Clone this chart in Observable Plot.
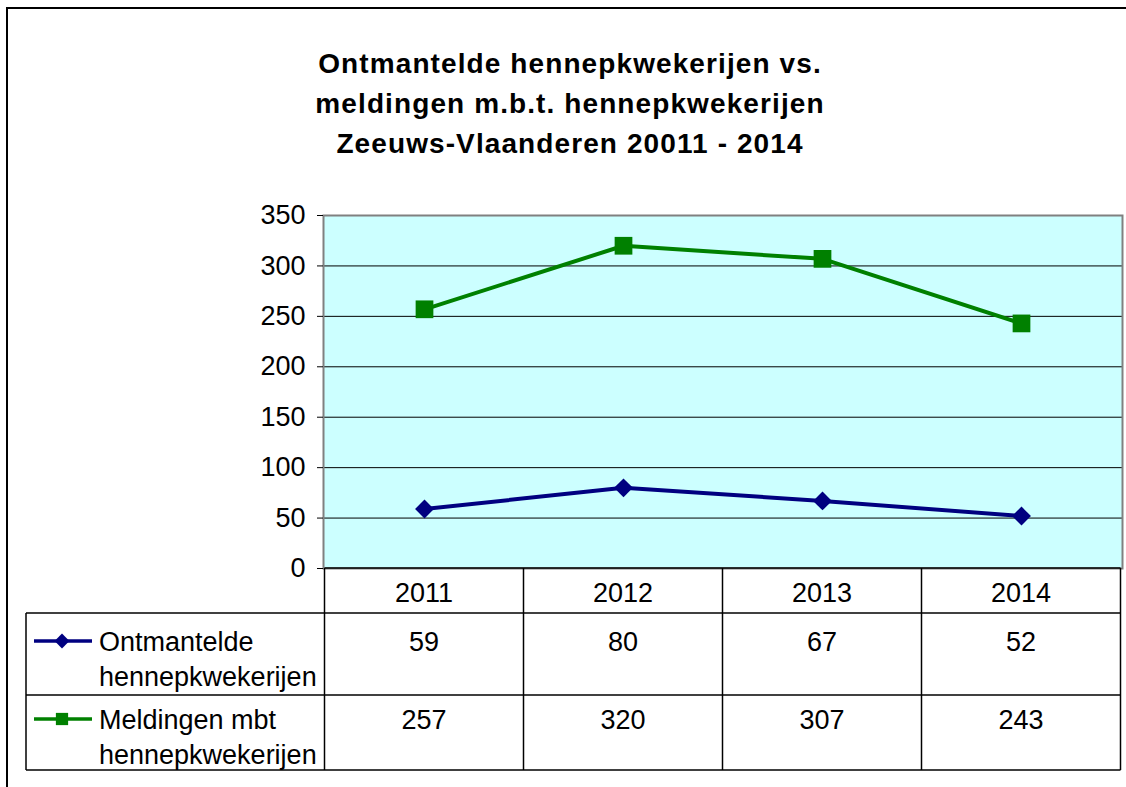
<!DOCTYPE html>
<html><head><meta charset="utf-8">
<script src="https://cdn.jsdelivr.net/npm/d3@7"></script>
<script src="https://cdn.jsdelivr.net/npm/@observablehq/plot@0.6"></script>
<style>
body{margin:0;background:#fff;}
#chart svg{font-family:Arial,"Liberation Sans",sans-serif;}
</style>
</head><body><div id="chart"></div>
<script>
const years = ["2011","2012","2013","2014"];
const ontmanteld = [59,80,67,52];
const meldingen = [257,320,307,243];
const yTicks = [0,50,100,150,200,250,300,350];
const seriesLabels = [["Ontmantelde","hennepkwekerijen"],["Meldingen mbt","hennepkwekerijen"]];
const titleLines = ["Ontmantelde hennepkwekerijen vs.","meldingen m.b.t. hennepkwekerijen","Zeeuws-Vlaanderen 20011 - 2014"];
const colors = ["#000080","#008000"];
const symbols = ["diamond2","square"];
const seriesValues = [ontmanteld, meldingen];

const seriesRows = seriesValues.map(vals => vals.map((v,i)=>({year: years[i], value: v})));

const marks = [
  Plot.frame({fill:"#CCFFFF", stroke:null}),
  Plot.ruleY(yTicks.filter(d => d > 0 && d < 350), {stroke:"#000", strokeWidth:1}),
  Plot.frame({stroke:"#808080", strokeWidth:2}),
  Plot.axisY({ticks: yTicks, tickSize: 6, tickPadding: 12, fontSize: 27, tickFormat: d => String(d), stroke:"#000", label: null})
];
seriesRows.forEach((rows, s) => {
  marks.push(Plot.line(rows, {x:"year", y:"value", stroke: colors[s], strokeWidth: 4}));
  marks.push(Plot.dot(rows, {x:"year", y:"value", symbol: symbols[s], fill: colors[s], stroke: "none", r: s === 0 ? 8.5 : 10}));
});

const plot = Plot.plot({
  width: 1126, height: 787,
  marginLeft: 323, marginRight: 4, marginTop: 215, marginBottom: 219,
  style: {background:"#fff", color:"#000", fontFamily:'Arial,"Liberation Sans",sans-serif', fontSize:"27px", overflow:"visible"},
  x: {type:"point", domain: years, padding: 0.5, axis: null},
  y: {domain:[0,350], axis: null, label: null},
  marks
});
document.getElementById("chart").appendChild(plot);

// extras: border, title, data table (positions from the plot's scales)
const svg = d3.select(plot);
const xs = plot.scale("x");
const ys = plot.scale("y");
const step = xs.apply(years[1]) - xs.apply(years[0]);
const colLeft = xs.apply(years[0]) - step/2;
const colRight = xs.apply(years[years.length-1]) + step/2;
const y0 = ys.apply(0);
const rowBounds = [y0, y0 + 45, y0 + 127, y0 + 202];
const tableLeft = 26;

const g = svg.append("g");
// outer chart border (top and left)
g.append("path").attr("d", `M7,${787}V8H1126`).attr("fill","none").attr("stroke","#000").attr("stroke-width",2);

// title
const title = g.append("text").attr("text-anchor","middle").attr("font-weight","bold").attr("font-size",28).attr("letter-spacing","1.1px").attr("fill","#000");
titleLines.forEach((t,i) => title.append("tspan").attr("x", 570).attr("y", 73 + i*40).text(t));

// table lines
const lines = g.append("g").attr("stroke","#000").attr("stroke-width",1.5).attr("fill","none");
lines.append("line").attr("x1", colLeft).attr("x2", colRight).attr("y1", rowBounds[0]).attr("y2", rowBounds[0]);
for (let r = 1; r < rowBounds.length; r++) {
  lines.append("line").attr("x1", tableLeft).attr("x2", colRight).attr("y1", rowBounds[r]).attr("y2", rowBounds[r]);
}
lines.append("line").attr("x1", tableLeft).attr("x2", tableLeft).attr("y1", rowBounds[1]).attr("y2", rowBounds[3]);
for (let c = 0; c <= years.length; c++) {
  const xx = colLeft + c*step;
  lines.append("line").attr("x1", xx).attr("x2", xx).attr("y1", rowBounds[0]).attr("y2", rowBounds[3]);
}

// year header
const txt = g.append("g").attr("font-size",27).attr("fill","#000");
years.forEach(yr => txt.append("text").attr("x", xs.apply(yr)).attr("y", y0 + 34).attr("text-anchor","middle").text(yr));

// values + legend
const rowBase = [rowBounds[1] + 38, rowBounds[2] + 34];
seriesValues.forEach((vals, s) => {
  vals.forEach((v,i) => txt.append("text").attr("x", xs.apply(years[i])).attr("y", rowBase[s]).attr("text-anchor","middle").text(v));
  const t = txt.append("text").attr("x", 99).attr("text-anchor","start");
  seriesLabels[s].forEach((l,k) => t.append("tspan").attr("x", 99).attr("y", rowBase[s] + k*35).text(l));
  const ly = rowBase[s] - 10;
  g.append("line").attr("x1", 34).attr("x2", 92).attr("y1", ly).attr("y2", ly).attr("stroke", colors[s]).attr("stroke-width", 3.5);
  const sym = s === 0 ? d3.symbolDiamond2 : d3.symbolSquare;
  g.append("path").attr("d", d3.symbol(sym, s === 0 ? 140 : 150)()).attr("transform", `translate(62,${ly})`).attr("fill", colors[s]);
});
</script>
</body></html>
